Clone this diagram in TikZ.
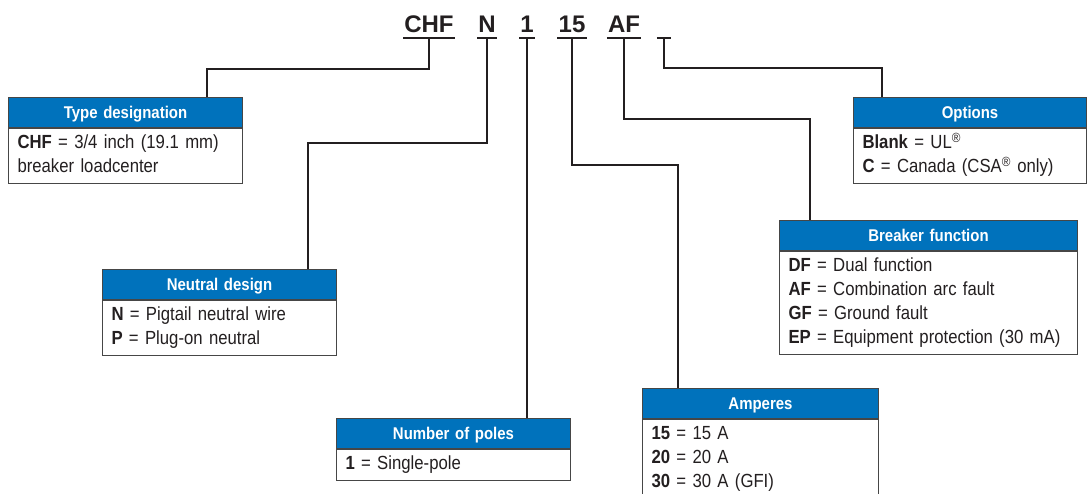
\documentclass[tikz,border=0pt]{standalone}
\usepackage{fontspec}
\setmainfont{Liberation Sans}[FakeStretch=0.88, WordSpace=0.75]
\newfontfamily\codefont{Liberation Sans}
\usetikzlibrary{calc}
\definecolor{hdblue}{RGB}{0,114,188}
\definecolor{inkgray}{RGB}{35,31,32}
\definecolor{framegray}{RGB}{70,70,70}
\tikzset{
	code/.style={anchor=south, inner xsep=1pt, inner ysep=5pt, text=inkgray, font=\codefont\bfseries\fontsize{24}{24}\selectfont},
	bar/.style={line width=2.6pt, color=inkgray},
	link/.style={line width=2.6pt, color=inkgray},
	hd/.style={anchor=north west, draw=framegray, line width=1pt, fill=hdblue, text=white, inner sep=0pt, minimum height=30pt, text height=14pt, text depth=2pt, align=center, font=\bfseries\fontsize{17}{20}\selectfont},
	bd/.style={anchor=north west, draw=framegray, line width=1pt, fill=white, inner xsep=9pt, inner ysep=3.5pt, align=left, text=inkgray, font=\fontsize{19}{24}\selectfont, execute at begin node=\strut, execute at end node=\strut}
}

\begin{document}
\begin{tikzpicture}[x=1pt, y=-1pt]
		%%%%% START %%%%%
		\useasboundingbox (0,0) rectangle (1087,494);
		
		% code letters
		\node[code] (cCHF) at (429, 38) {CHF};
		\node[code] (cN) at (487, 38) {N};
		\node[code] (c1) at (527, 38) {1};
		\node[code] (c15) at (572, 38) {15};
		\node[code] (cAF) at (624, 38) {AF};
		\node[code, minimum width=14pt] (cBlank) at (664, 38) {};
		\foreach \c in {cCHF, cN, c1, c15, cAF, cBlank}
			\draw[bar] (\c.south west) -- (\c.south east);
		
		% boxes
		\node[hd, text width=234pt] (typeH) at (8, 97) {Type designation};
		\node[bd, text width=216pt] (typeB) at (typeH.south west) {\textbf{CHF} = 3/4 inch (19.1 mm)\\breaker loadcenter};
		
		\node[hd, text width=233pt] (optH) at (853, 97) {Options};
		\node[bd, text width=215pt] (optB) at (optH.south west) {\textbf{Blank} = UL\textsuperscript{®}\\\textbf{C} = Canada (CSA\textsuperscript{®} only)};
		
		\node[hd, text width=298pt] (funcH) at (779, 220) {Breaker function};
		\node[bd, text width=280pt] (funcB) at (funcH.south west) {\textbf{DF} = Dual function\\\textbf{AF} = Combination arc fault\\\textbf{GF} = Ground fault\\\textbf{EP} = Equipment protection (30 mA)};
		
		\node[hd, text width=234pt] (neutH) at (102, 269) {Neutral design};
		\node[bd, text width=216pt] (neutB) at (neutH.south west) {\textbf{N} = Pigtail neutral wire\\\textbf{P} = Plug-on neutral};
		
		\node[hd, text width=234pt] (polesH) at (336, 418) {Number of poles};
		\node[bd, text width=216pt] (polesB) at (polesH.south west) {\textbf{1} = Single-pole};
		
		\node[hd, text width=236pt] (ampH) at (642, 388) {Amperes};
		\node[bd, text width=218pt] (ampB) at (ampH.south west) {\textbf{15} = 15 A\\\textbf{20} = 20 A\\\textbf{30} = 30 A (GFI)};
		
		% elbows
		\coordinate (kCHF) at (207, 69);
		\coordinate (kN) at (308, 143);
		\coordinate (k15) at (678, 165);
		\coordinate (kAF) at (810, 119);
		\coordinate (kBlank) at (882, 68);
		
		% connectors
		\draw[link] (cCHF.south) |- (kCHF) -- (kCHF |- typeH.north);
		\draw[link] (cN.south) |- (kN) -- (kN |- neutH.north);
		\draw[link] (c1.south) -- (c1.south |- polesH.north);
		\draw[link] (c15.south) |- (k15) -- (k15 |- ampH.north);
		\draw[link] (cAF.south) |- (kAF) -- (kAF |- funcH.north);
		\draw[link] (cBlank.south) |- (kBlank) -- (kBlank |- optH.north);
		
		%%%%% END %%%%%
\end{tikzpicture}
\end{document}
